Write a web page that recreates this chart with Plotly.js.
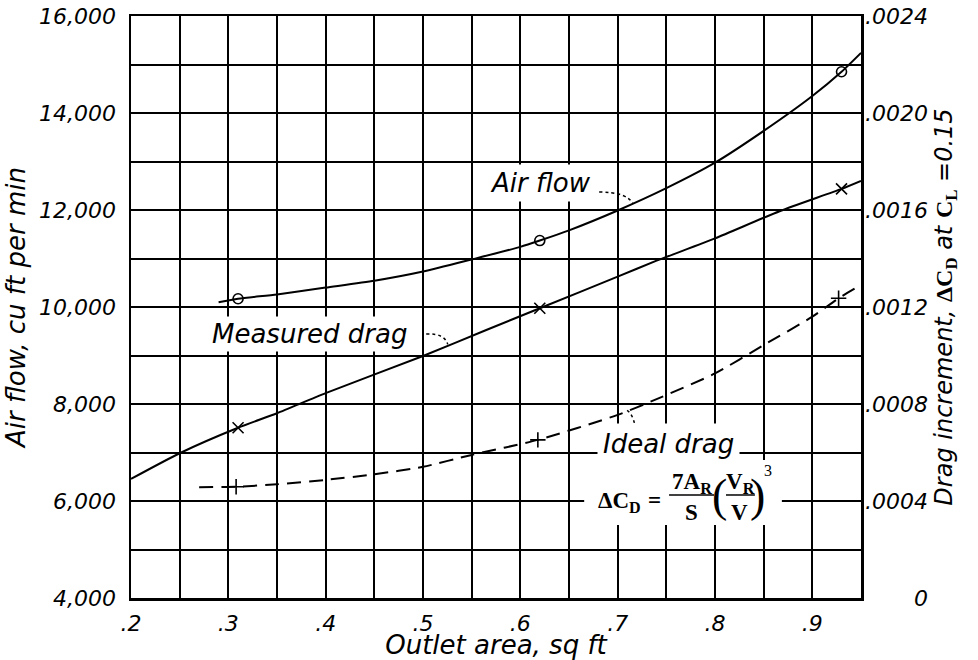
<!DOCTYPE html>
<html><head><meta charset="utf-8">
<script src="https://cdn.plot.ly/plotly-3.0.1.min.js"></script>
<style>body{margin:0;background:#fff}#chart{width:978px;height:660px}</style>
</head><body><div id="chart"></div>
<script>
// ---- data ----
const xTickVals = [0.2, 0.3, 0.4, 0.5, 0.6, 0.7, 0.8, 0.9];
const xTickText = ['.2', '.3', '.4', '.5', '.6', '.7', '.8', '.9'];
const yTickVals = [4000, 6000, 8000, 10000, 12000, 14000, 16000];
const yTickText = ['4,000', '6,000', '8,000', '10,000', '12,000', '14,000', '16,000'];
const y2TickVals = [0, 0.0004, 0.0008, 0.0012, 0.0016, 0.0020, 0.0024];
const y2TickText = ['\u2008\u2007\u2007\u20070', '.0004', '.0008', '.0012', '.0016', '.0020', '.0024'];

// Air flow (left axis, cu ft per min)
const airCurveX = [0.29, 0.31, 0.35, 0.40, 0.45, 0.50, 0.55, 0.60, 0.62, 0.65, 0.70, 0.75, 0.80, 0.85, 0.90, 0.93, 0.95];
const airCurveY = [10100, 10170, 10260, 10400, 10540, 10730, 10980, 11240, 11370, 11580, 11990, 12450, 12975, 13630, 14350, 14850, 15240];
const airPtsX = [0.31, 0.62, 0.93];
const airPtsY = [10170, 11370, 14850];

// Measured drag (right axis, delta CD)
const measCurveX = [0.20, 0.25, 0.31, 0.35, 0.40, 0.50, 0.565, 0.62, 0.70, 0.74, 0.80, 0.867, 0.93, 0.95];
const measCurveY = [0.000491, 0.000597, 0.000702, 0.000762, 0.000845, 0.000998, 0.001105, 0.001195, 0.001325, 0.001391, 0.001483, 0.001596, 0.001687, 0.001720];
const measPtsX = [0.31, 0.62, 0.93];
const measPtsY = [0.000702, 0.001195, 0.001687];

// Ideal drag (right axis, delta CD)
const idealCurveX = [0.27, 0.31, 0.35, 0.40, 0.45, 0.50, 0.55, 0.618, 0.70, 0.74, 0.80, 0.85, 0.90, 0.927, 0.95];
const idealCurveY = [0.000457, 0.000459, 0.000469, 0.000487, 0.00051, 0.000541, 0.00059, 0.000652, 0.000755, 0.00082, 0.000926, 0.001043, 0.00116, 0.001236, 0.001291];
const idealPtsX = [0.308, 0.618, 0.927];
const idealPtsY = [0.000459, 0.000652, 0.001236];

// ---- styling ----
const FONT = 'DejaVu Sans';
const SERIF = 'Liberation Serif';
const INK = '#000';
const NB = '\u00A0';

const traces = [
  {x: airCurveX, y: airCurveY, mode: 'lines', line: {color: INK, width: 2, shape: 'spline', smoothing: 0.6}, yaxis: 'y', hoverinfo: 'skip', showlegend: false},
  {x: airPtsX, y: airPtsY, mode: 'markers', marker: {symbol: 'circle-open', size: 10, color: INK, line: {width: 1.6, color: INK}}, yaxis: 'y', showlegend: false},
  {x: measCurveX, y: measCurveY, mode: 'lines', line: {color: INK, width: 2, shape: 'spline', smoothing: 0.6}, yaxis: 'y2', hoverinfo: 'skip', showlegend: false},
  {x: measPtsX, y: measPtsY, mode: 'markers', marker: {symbol: 'x-thin-open', size: 11, color: INK, line: {width: 1.6, color: INK}}, yaxis: 'y2', showlegend: false},
  {x: idealCurveX, y: idealCurveY, mode: 'lines', line: {color: INK, width: 2, dash: '14px,8px', shape: 'spline', smoothing: 0.6}, yaxis: 'y2', hoverinfo: 'skip', showlegend: false},
  {x: idealPtsX, y: idealPtsY, mode: 'markers', marker: {symbol: 'cross-thin-open', size: 11, color: INK, line: {width: 1.6, color: INK}}, yaxis: 'y2', showlegend: false}
];

const txt = {family: FONT, size: 26, color: INK, style: 'italic'};
const frm = {family: SERIF, size: 23, color: INK, weight: 'bold', style: 'normal'};
const par = {family: SERIF, size: 46, color: INK, weight: 'normal', style: 'normal'};

const annotations = [
  {x: 0.6205, y: 12557, xref: 'x', yref: 'y', text: 'Air flow', showarrow: false, font: txt, bgcolor: '#fff', borderpad: 3},
  {x: 0.3836, y: 9443, xref: 'x', yref: 'y', text: 'Measured drag', showarrow: false, font: txt, bgcolor: '#fff', borderpad: 2},
  {x: 0.7518, y: 7170, xref: 'x', yref: 'y', text: 'Ideal drag', showarrow: false, font: txt, bgcolor: '#fff', borderpad: 5},
  // formula  dC_D = 7A_R/S (V_R/V)^3
  {x: 0.7015, y: 5979, xref: 'x', yref: 'y', text: '\u0394C<sub>D</sub>', showarrow: false, font: frm},
  {x: 0.7380, y: 6010, xref: 'x', yref: 'y', text: '=', showarrow: false, font: frm},
  {x: 0.7760, y: 6380, xref: 'x', yref: 'y', text: '7A<sub>R</sub>', showarrow: false, font: frm},
  {x: 0.7760, y: 5773, xref: 'x', yref: 'y', text: 'S', showarrow: false, font: frm},
  {x: 0.8051, y: 6110, xref: 'x', yref: 'y', text: '(', showarrow: false, font: par},
  {x: 0.8262, y: 6380, xref: 'x', yref: 'y', text: 'V<sub>R</sub>', showarrow: false, font: frm},
  {x: 0.8252, y: 5773, xref: 'x', yref: 'y', text: 'V', showarrow: false, font: frm},
  {x: 0.8441, y: 6110, xref: 'x', yref: 'y', text: ')', showarrow: false, font: par},
  {x: 0.8545, y: 6620, xref: 'x', yref: 'y', text: '3', showarrow: false, font: {family: SERIF, size: 16, color: INK, style: 'normal'}}
];

const shapes = [
  // white patch behind the formula (breaks the grid as in the original)
  {type: 'rect', xref: 'x', yref: 'y', x0: 0.6656, x1: 0.8687, y0: 5505, y1: 6845, fillcolor: '#fff', line: {width: 0}, layer: 'between'},
  // fraction bars
  {type: 'line', xref: 'x', yref: 'y', x0: 0.7528, x1: 0.799, y0: 6124, y1: 6124, line: {color: INK, width: 1.5}},
  {type: 'line', xref: 'x', yref: 'y', x0: 0.8113, x1: 0.841, y0: 6124, y1: 6124, line: {color: INK, width: 1.5}},
  // dotted leaders
  {type: 'path', xref: 'x', yref: 'y', path: 'M0.681,12371 Q0.7097,12371 0.7159,12124', line: {color: INK, width: 1.5, dash: 'dot'}},
  {type: 'path', xref: 'x', yref: 'y', path: 'M0.5033,9443 Q0.522,9464 0.5254,9230', line: {color: INK, width: 1.5, dash: 'dot'}},
  {type: 'path', xref: 'x', yref: 'y', path: 'M0.7097,7870 Q0.718,7752 0.719,7330', line: {color: INK, width: 1.5, dash: 'dot'}}
];

const layout = {
  width: 978, height: 660,
  margin: {l: 131, r: 117, t: 16, b: 62},
  paper_bgcolor: '#fff', plot_bgcolor: '#fff',
  font: {family: FONT, color: INK, size: 22, style: 'italic'},
  showlegend: false,
  xaxis: {
    range: [0.2, 0.95], tickmode: 'array', tickvals: xTickVals, ticktext: xTickText,
    showgrid: true, gridcolor: INK, gridwidth: 2,
    minor: {dtick: 0.05, tick0: 0.2, showgrid: true, gridcolor: INK, gridwidth: 2},
    showline: true, linecolor: INK, linewidth: 2.5, mirror: true, zeroline: false,
    ticks: '', ticklabelstandoff: 4,
    tickfont: {family: FONT, size: 22, style: 'italic'},
    title: {text: 'Outlet area, sq ft' + NB.repeat(7), font: {family: FONT, size: 26, style: 'italic'}, standoff: 0}
  },
  yaxis: {
    range: [4000, 16000], tickmode: 'array', tickvals: yTickVals, ticktext: yTickText,
    showgrid: true, gridcolor: INK, gridwidth: 2,
    minor: {dtick: 1000, tick0: 4000, showgrid: true, gridcolor: INK, gridwidth: 2},
    showline: true, linecolor: INK, linewidth: 2.5, mirror: true, zeroline: false,
    ticks: '', ticklabelstandoff: 8,
    tickfont: {family: FONT, size: 22, style: 'italic'},
    title: {text: NB.repeat(5) + 'Air flow, cu ft per min', font: {family: FONT, size: 26, style: 'italic'}, standoff: 6}
  },
  yaxis2: {
    range: [0, 0.0024], overlaying: 'y', side: 'right', tickmode: 'array', tickvals: y2TickVals, ticktext: y2TickText,
    showgrid: false, zeroline: false, showline: false, ticks: '', ticklabelstandoff: 3,
    tickfont: {family: FONT, size: 22, style: 'italic'},
    title: {text: NB.repeat(6) + 'Drag increment, <span style="font-family:Liberation Serif;font-weight:bold;font-style:normal">\u0394C<sub>D</sub></span> at <span style="font-family:Liberation Serif;font-weight:bold;font-style:normal">C<sub>L</sub></span> =0.15',
            font: {family: FONT, size: 24, style: 'italic'}, standoff: 8}
  },
  annotations: annotations,
  shapes: shapes
};

Plotly.newPlot('chart', traces, layout, {staticPlot: true, displayModeBar: false});
</script></body></html>
